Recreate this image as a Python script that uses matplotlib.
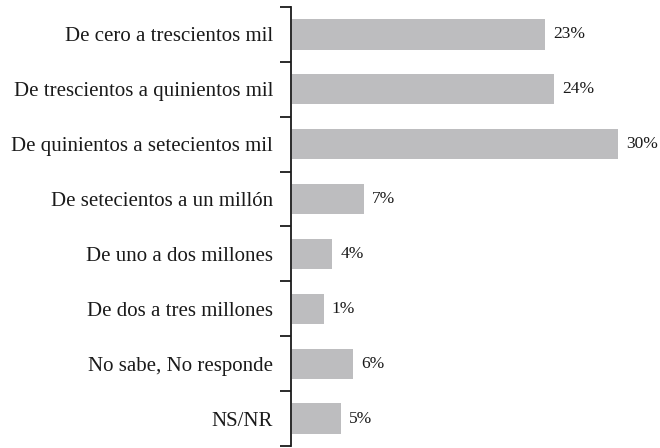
import matplotlib.pyplot as plt
import numpy as np

# Categorías (de arriba hacia abajo)
categorias = [
    "De cero a trescientos mil",
    "De trescientos a quinientos mil",
    "De quinientos a setecientos mil",
    "De setecientos a un millón",
    "De uno a dos millones",
    "De dos a tres millones",
    "No sabe, No responde",
    "NS/NR",
]
# Longitud de barra (en %)
valores = [23.3, 24.1, 30.0, 6.6, 3.7, 2.9, 5.6, 4.5]
etiquetas = ["23%", "24%", "30%", "7%", "4%", "1%", "6%", "5%"]

plt.rcParams["font.family"] = ["Liberation Serif", "DejaVu Serif"]

fig = plt.figure(figsize=(6.6, 4.48), dpi=100)
ax = fig.add_axes([291 / 660, 2 / 448, 1 - 291 / 660, 439 / 448])

y = np.arange(len(categorias))
ax.barh(y, valores, height=0.55, color="#bdbdbf", left=0.1)
for yi, v, lab in zip(y, valores, etiquetas):
    ax.text(v + 0.1 + 0.75, yi, lab, va="center", ha="left", fontsize=12.5, color="#1a1a1a")

ax.set_ylim(len(categorias) - 0.5, -0.5)
ax.set_xlim(0, 34)
ax.set_yticks(y)
ax.set_yticklabels(categorias, fontsize=15, color="#1a1a1a")
ax.set_yticks(np.arange(-0.5, len(categorias)), minor=True)
ax.tick_params(axis="y", which="major", length=0, pad=13)
ax.tick_params(axis="y", which="minor", length=8, width=1.3, color="#1a1a1a")
ax.set_xticks([])

for s in ["top", "right", "bottom"]:
    ax.spines[s].set_visible(False)
ax.spines["left"].set_linewidth(1.3)
ax.spines["left"].set_color("#1a1a1a")

fig.savefig("out.png", dpi=100)
